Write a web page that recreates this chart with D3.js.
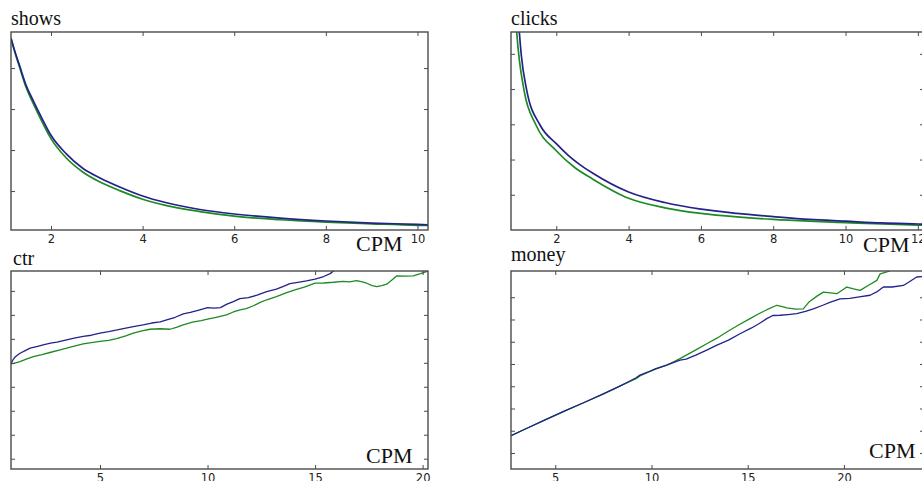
<!DOCTYPE html>
<html>
<head>
<meta charset="utf-8">
<script src="https://cdn.jsdelivr.net/npm/d3@7"></script>
<style>
  html, body { margin: 0; padding: 0; background: #fff; }
  svg { display: block; }
</style>
</head>
<body>
<svg id="chart" width="922" height="481"></svg>
<script>
// ---- data: [CPM, value] pairs for each panel, two series each ----
const showsBlue = [[1.127,4.73],[1.2,4.45],[1.323,4.03],[1.45,3.60],[1.614,3.20],[1.8,2.78],[2.0,2.36],[2.34,1.90],[2.7,1.55],[3.07,1.32],[3.5,1.10],[4.0,0.88],[4.5,0.72],[5.25,0.55],[6.0,0.44],[7.0,0.34],[8.0,0.27],[9.0,0.22],[10.0,0.185],[10.23,0.175]];
const showsGreen = [[1.127,4.73],[1.2,4.43],[1.323,3.99],[1.45,3.55],[1.614,3.13],[1.8,2.70],[2.0,2.28],[2.34,1.80],[2.7,1.46],[3.07,1.22],[3.5,1.01],[4.0,0.80],[4.5,0.65],[5.25,0.50],[6.0,0.39],[7.0,0.30],[8.0,0.24],[9.0,0.20],[10.0,0.165],[10.23,0.16]];

const clicksBlue = [[0.95,6.0],[0.977,5.62],[1.032,4.96],[1.181,3.97],[1.549,2.98],[2.0,2.45],[2.33,2.12],[2.66,1.85],[3.0,1.62],[4.0,1.08],[5.0,0.78],[6.0,0.59],[7.0,0.47],[8.0,0.38],[9.0,0.30],[10.0,0.25],[11.0,0.20],[12.0,0.17],[12.17,0.165]];
const clicksGreen = [[0.88,6.0],[0.905,5.62],[1.106,3.97],[1.438,2.98],[2.0,2.25],[2.5,1.78],[3.0,1.45],[4.0,0.90],[5.0,0.63],[6.0,0.47],[7.0,0.37],[8.0,0.30],[9.0,0.25],[10.0,0.21],[11.0,0.17],[12.0,0.14],[12.17,0.135]];

const ctrBlue = [[0.862,4.96],[0.95,5.12],[1.05,5.24],[1.28,5.40],[1.5,5.50],[1.75,5.61],[2.1,5.69],[2.4,5.76],[2.7,5.82],[3.0,5.86],[3.45,5.96],[3.8,6.03],[4.22,6.10],[4.6,6.15],[5.0,6.24],[5.4,6.30],[5.8,6.37],[6.2,6.45],[6.55,6.51],[7.0,6.58],[7.4,6.66],[7.8,6.71],[8.1,6.79],[8.5,6.90],[8.87,7.04],[9.2,7.10],[9.6,7.20],[10.0,7.30],[10.3,7.28],[10.6,7.30],[10.9,7.45],[11.2,7.55],[11.5,7.68],[11.9,7.72],[12.3,7.82],[12.75,7.97],[13.2,8.07],[13.5,8.18],[13.83,8.30],[14.2,8.36],[14.6,8.42],[15.0,8.49],[15.4,8.60],[15.7,8.72],[15.9,8.86],[16.3,9.0]];
const ctrGreen = [[0.862,4.96],[1.0,4.98],[1.28,5.05],[1.6,5.16],[1.9,5.26],[2.3,5.34],[2.675,5.43],[3.1,5.53],[3.45,5.61],[3.85,5.71],[4.22,5.79],[4.6,5.84],[5.0,5.89],[5.4,5.94],[5.77,6.01],[6.2,6.12],[6.55,6.24],[6.9,6.32],[7.32,6.40],[7.8,6.42],[8.25,6.40],[8.55,6.48],[8.87,6.58],[9.3,6.70],[9.7,6.76],[10.0,6.82],[10.4,6.90],[10.88,7.00],[11.2,7.12],[11.51,7.21],[11.8,7.26],[12.13,7.38],[12.45,7.52],[12.75,7.63],[13.2,7.76],[13.68,7.93],[14.1,8.05],[14.5,8.16],[15.0,8.32],[15.4,8.33],[15.85,8.36],[16.3,8.40],[16.6,8.38],[16.93,8.43],[17.2,8.38],[17.4,8.32],[17.65,8.22],[17.87,8.18],[18.1,8.22],[18.33,8.28],[18.6,8.48],[18.8,8.63],[19.2,8.62],[19.57,8.63],[19.9,8.72],[20.25,8.83]];

const moneyBlue = [[2.70,1.78],[3.5,2.10],[4.5,2.50],[5.5,2.89],[6.5,3.27],[7.5,3.66],[8.3,3.98],[8.8,4.20],[9.2,4.38],[9.4,4.50],[9.8,4.63],[10.2,4.78],[10.79,4.95],[11.1,5.05],[11.48,5.17],[11.8,5.22],[12.3,5.40],[12.87,5.62],[13.4,5.85],[14.0,6.07],[14.6,6.36],[15.2,6.62],[15.6,6.82],[15.99,7.04],[16.3,7.18],[16.68,7.19],[17.1,7.22],[17.55,7.26],[18.0,7.36],[18.41,7.48],[18.9,7.64],[19.3,7.78],[19.8,7.93],[20.3,7.95],[20.8,8.02],[21.36,8.09],[21.7,8.24],[22.05,8.46],[22.5,8.46],[23.09,8.53],[23.4,8.70],[23.78,8.91],[24.16,8.93]];
const moneyGreen = [[2.70,1.78],[3.5,2.10],[4.5,2.50],[5.5,2.89],[6.5,3.27],[7.5,3.66],[8.3,3.98],[8.8,4.18],[9.2,4.34],[9.4,4.46],[9.8,4.62],[10.2,4.77],[10.79,4.95],[11.1,5.08],[11.48,5.24],[12.0,5.49],[12.4,5.68],[12.87,5.91],[13.4,6.16],[13.91,6.44],[14.5,6.74],[15.12,7.04],[15.6,7.27],[16.0,7.44],[16.51,7.64],[16.8,7.58],[17.03,7.52],[17.5,7.47],[17.89,7.48],[18.2,7.80],[18.6,8.05],[18.93,8.23],[19.3,8.20],[19.63,8.16],[20.15,8.46],[20.5,8.38],[20.84,8.31],[21.3,8.55],[21.71,8.76],[21.88,9.05],[22.31,9.16],[22.6,9.3]];

// tick values
const showsXTicks = [2, 4, 6, 8, 10];
const clicksXTicks = [2, 4, 6, 8, 10, 12];
const ctrXTicks = [5, 10, 15, 20];
const moneyXTicks = [5, 10, 15, 20];
const showsYTicks = [1, 2, 3, 4];
const clicksYTicks = [1, 2, 3, 4, 5];
const ctrYTicks = [1, 2, 3, 4, 5, 6, 7, 8];
const moneyYTicks = [1, 2, 3, 4, 5, 6, 7, 8];

const BLUE = "#22228a";
const GREEN = "#1e8a24";
const FRAME = "#4a4a4a";
const SERIF = "Liberation Serif";
const SANS = "DejaVu Sans";

const svg = d3.select("#chart");

const panels = [
  { id: "shows", title: "shows", titleX: 11, titleY: 25,
    box: [11, 428, 32, 230], xDom: [1.127, 10.23], yDom: [0.05, 4.88],
    xTicks: showsXTicks, yTicks: showsYTicks, blue: showsBlue, green: showsGreen,
    cpm: [356, 251], lw: 1.7, curve: d3.curveMonotoneX },
  { id: "clicks", title: "clicks", titleX: 511, titleY: 25,
    box: [511, 924, 32, 230], xDom: [0.747, 12.17], yDom: [0, 5.62],
    xTicks: clicksXTicks, yTicks: clicksYTicks, blue: clicksBlue, green: clicksGreen,
    cpm: [863, 252], lw: 1.7, curve: d3.curveMonotoneX },
  { id: "ctr", title: "ctr", titleX: 13, titleY: 265,
    box: [11, 428, 271, 469], xDom: [0.862, 20.25], yDom: [0.57, 8.83],
    xTicks: ctrXTicks, yTicks: ctrYTicks, blue: ctrBlue, green: ctrGreen,
    cpm: [366, 463], lw: 1.3, curve: d3.curveLinear },
  { id: "money", title: "money", titleX: 511, titleY: 261,
    box: [511, 924, 271, 469], xDom: [2.70, 24.16], yDom: [0.28, 9.18],
    xTicks: moneyXTicks, yTicks: moneyYTicks, blue: moneyBlue, green: moneyGreen,
    cpm: [869, 458], lw: 1.3, curve: d3.curveLinear }
];

panels.forEach(p => {
  const [x0, x1, y0, y1] = p.box;
  const x = d3.scaleLinear().domain(p.xDom).range([x0, x1]);
  const y = d3.scaleLinear().domain(p.yDom).range([y1, y0]);
  const g = svg.append("g").attr("class", "panel-" + p.id);

  svg.append("clipPath").attr("id", "clip-" + p.id)
    .append("rect").attr("x", x0).attr("y", y0).attr("width", x1 - x0).attr("height", y1 - y0);

  // series
  const line = d3.line().x(d => x(d[0])).y(d => y(d[1])).curve(p.curve);
  const plot = g.append("g").attr("clip-path", "url(#clip-" + p.id + ")");
  plot.append("path").datum(p.green).attr("d", line)
    .attr("fill", "none").attr("stroke", GREEN).attr("stroke-width", p.lw).attr("stroke-linejoin", "round");
  plot.append("path").datum(p.blue).attr("d", line)
    .attr("fill", "none").attr("stroke", BLUE).attr("stroke-width", p.lw).attr("stroke-linejoin", "round");

  // inward ticks on all four sides
  const xb = g.append("g").attr("transform", `translate(0,${y1})`)
    .call(d3.axisBottom(x).tickValues(p.xTicks).tickSize(-4).tickPadding(5).tickFormat(d3.format("d")));
  const xt = g.append("g").attr("transform", `translate(0,${y0})`)
    .call(d3.axisTop(x).tickValues(p.xTicks).tickSize(-4).tickFormat(""));
  const yl = g.append("g").attr("transform", `translate(${x0},0)`)
    .call(d3.axisLeft(y).tickValues(p.yTicks).tickSize(-4).tickFormat(""));
  const yr = g.append("g").attr("transform", `translate(${x1},0)`)
    .call(d3.axisRight(y).tickValues(p.yTicks).tickSize(-4).tickFormat(""));
  [xb, xt, yl, yr].forEach(a => {
    a.select(".domain").remove();
    a.selectAll(".tick line").attr("stroke", FRAME).attr("stroke-width", 1);
  });
  xb.attr("font-family", null).attr("font-size", null)
    .style("font-family", SANS).style("font-size", "11.5px");
  xb.selectAll(".tick text").attr("fill", "#222");

  // frame
  g.append("rect").attr("x", x0).attr("y", y0).attr("width", x1 - x0).attr("height", y1 - y0)
    .attr("fill", "none").attr("stroke", FRAME).attr("stroke-width", 1.4);

  // titles
  svg.append("text").attr("x", p.titleX).attr("y", p.titleY)
    .style("font-family", SERIF).style("font-size", "20px").attr("fill", "#111").text(p.title);
  svg.append("text").attr("x", p.cpm[0]).attr("y", p.cpm[1])
    .style("font-family", SERIF).style("font-size", "22px").attr("fill", "#111").text("CPM");
});
</script>
</body>
</html>
